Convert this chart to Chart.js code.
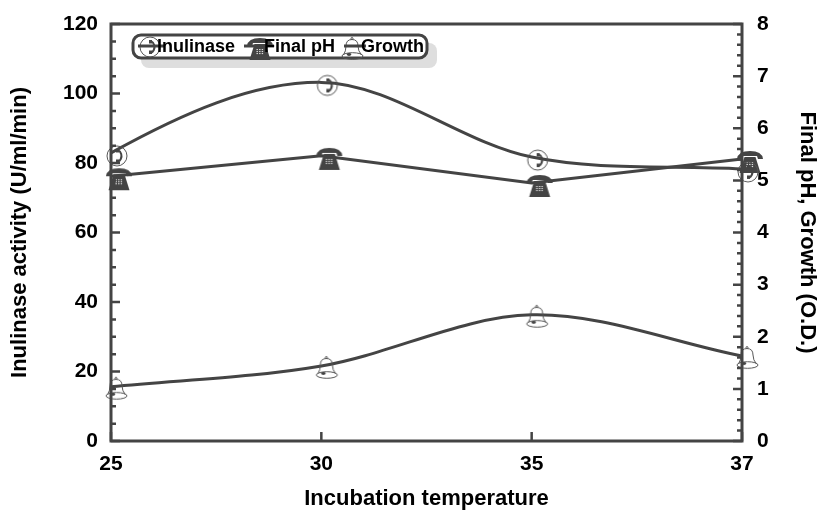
<!DOCTYPE html>
<html>
<head>
<meta charset="utf-8">
<style>
  html, body { margin: 0; padding: 0; background: #fff; }
  canvas { display: block; }
</style>
<script src="https://cdn.jsdelivr.net/npm/chart.js@4"></script>
</head>
<body>
<canvas id="tempChart" width="823" height="514"></canvas>
<script>
const temperatures = ['25', '30', '35', '37'];
const inulinase = [82.9, 103.2, 81.7, 78.3];
const finalPh = [5.08, 5.47, 4.95, 5.41];
const growth = [1.04, 1.44, 2.42, 1.63];

const ink = '#444444';
const FONT = '"Liberation Sans", Arial, sans-serif';
const tickFont = { family: FONT, size: 21, weight: 'bold' };
const titleFont = { family: FONT, size: 22, weight: 'bold' };

// marker pictures, drawn a little off centre like in the original
function iconCanvas(draw, dx, dy) {
  const c = document.createElement('canvas');
  c.width = 60;
  c.height = 60;
  const g = c.getContext('2d');
  g.translate(30 + dx, 30 + dy);
  draw(g);
  return c;
}

function drawDial(g) {
  g.strokeStyle = '#555';
  g.lineWidth = 1;
  g.beginPath();
  g.arc(0, 0, 10, 0, Math.PI * 2);
  g.stroke();
  // handset
  g.strokeStyle = ink;
  g.lineWidth = 2;
  g.beginPath();
  g.arc(-2, 0, 6.5, -1.1, 1.1);
  g.stroke();
  g.fillStyle = ink;
  g.fillRect(-1, -7, 3, 3.5);
  g.fillRect(-1, 3.5, 3, 3.5);
}

function drawPhone(g) {
  g.fillStyle = ink;
  // receiver
  g.beginPath();
  g.moveTo(-13, -3);
  g.quadraticCurveTo(-12, -11, 0, -11);
  g.quadraticCurveTo(12, -11, 13, -3);
  g.lineTo(8, -3);
  g.lineTo(7, -6);
  g.lineTo(-7, -6);
  g.lineTo(-8, -3);
  g.closePath();
  g.fill();
  // body
  g.beginPath();
  g.moveTo(-5.5, -5);
  g.lineTo(5.5, -5);
  g.lineTo(10.5, 11);
  g.lineTo(-10.5, 11);
  g.closePath();
  g.fill();
  // keypad
  g.fillStyle = '#ddd';
  for (let r = 0; r < 3; r++) {
    for (let k = 0; k < 3; k++) {
      g.fillRect(-3.5 + k * 2.6, 0 + r * 2, 1.4, 1.1);
    }
  }
}

function drawBell(g) {
  g.strokeStyle = '#555';
  g.lineWidth = 1;
  g.beginPath();
  g.moveTo(-8.5, 6);
  g.quadraticCurveTo(-6, 2, -6, -3);
  g.quadraticCurveTo(-6, -9.5, 0, -9.5);
  g.quadraticCurveTo(6, -9.5, 6, -3);
  g.quadraticCurveTo(6, 2, 9.5, 6);
  g.stroke();
  g.beginPath();
  g.ellipse(0.5, 7, 10.5, 3.3, 0, 0, Math.PI * 2);
  g.stroke();
  g.beginPath();
  g.arc(0, -10.5, 1, 0, Math.PI * 2);
  g.stroke();
  g.fillStyle = ink;
  g.beginPath();
  g.ellipse(-3, 5.5, 2.2, 1.4, 0, 0, Math.PI * 2);
  g.fill();
}

const dialPoint = iconCanvas(drawDial, 6, 3);
const phonePoint = iconCanvas(drawPhone, 8, 3);
const bellPoint = iconCanvas(drawBell, 5, 2);

// the first inulinase segment leaves its point steeper than chart.js would make it
const startTangent = {
  id: 'startTangent',
  beforeDatasetDraw(chart, args) {
    if (args.index !== 0) return;
    const line = args.meta.dataset;
    line.updateControlPoints(chart.chartArea, 'x');
    const p0 = args.meta.data[0];
    const p1 = args.meta.data[1];
    p0.cp2x = p0.x + (p1.x - p0.x) / 3;
    p0.cp2y = p0.y + (p1.y - p0.y) * 0.55;
  }
};

// inward tick marks and the frame on top of the plot
const frameAndTicks = {
  id: 'frameAndTicks',
  afterDatasetsDraw(chart) {
    const { ctx, chartArea: a, scales } = chart;
    ctx.save();
    ctx.strokeStyle = ink;
    ctx.lineWidth = 2.5;
    ctx.beginPath();
    scales.yL.ticks.forEach(t => {
      const y = scales.yL.getPixelForValue(t.value);
      ctx.moveTo(a.left, y);
      ctx.lineTo(a.left + (t.value % 20 === 0 ? 9 : 5), y);
    });
    scales.yR.ticks.forEach(t => {
      const y = scales.yR.getPixelForValue(t.value);
      const major = Math.abs(t.value - Math.round(t.value)) < 0.001;
      ctx.moveTo(a.right, y);
      ctx.lineTo(a.right - (major ? 9 : 5), y);
    });
    temperatures.forEach((_, i) => {
      const x = scales.x.getPixelForValue(i);
      ctx.moveTo(x, a.bottom);
      ctx.lineTo(x, a.bottom - 9);
    });
    ctx.stroke();
    ctx.lineWidth = 3;
    ctx.beginPath();
    ctx.rect(a.left, a.top, a.right - a.left, a.bottom - a.top);
    ctx.stroke();
    ctx.restore();
  }
};

// boxed legend inside the plot, with the soft grey shadow
const boxLegend = {
  id: 'boxLegend',
  afterDraw(chart) {
    const { ctx } = chart;
    const entries = [
      { i: 0, icon: drawDial, ix: 150, iy: 47, x0: 138, x1: 164, tx: 157 },
      { i: 1, icon: drawPhone, ix: 260, iy: 49, x0: 244, x1: 274, tx: 264 },
      { i: 2, icon: drawBell, ix: 352, iy: 49, x0: 344, x1: 366, tx: 361 }
    ];
    ctx.save();
    ctx.fillStyle = '#dedede';
    ctx.beginPath();
    ctx.roundRect(141, 43, 296, 25, 8);
    ctx.fill();
    ctx.fillStyle = '#fff';
    ctx.beginPath();
    ctx.roundRect(133, 35, 294, 23, 8);
    ctx.fill();
    ctx.strokeStyle = ink;
    ctx.lineWidth = 3;
    ctx.stroke();
    ctx.font = 'bold 18px ' + FONT;
    ctx.textBaseline = 'middle';
    entries.forEach(e => {
      ctx.save();
      ctx.translate(e.ix, e.iy);
      e.icon(ctx);
      ctx.restore();
      ctx.strokeStyle = ink;
      ctx.lineWidth = 3;
      ctx.beginPath();
      ctx.moveTo(e.x0, 46);
      ctx.lineTo(e.x1, 46);
      ctx.stroke();
      ctx.fillStyle = '#000';
      ctx.fillText(chart.data.datasets[e.i].label, e.tx, 47);
    });
    ctx.restore();
  }
};

new Chart(document.getElementById('tempChart'), {
  type: 'line',
  data: {
    labels: temperatures,
    datasets: [
      { label: 'Inulinase', data: inulinase, yAxisID: 'yL', borderColor: ink, borderWidth: 3, tension: 0.33, pointStyle: dialPoint, clip: false },
      { label: 'Final pH', data: finalPh, yAxisID: 'yR', borderColor: ink, borderWidth: 3, tension: 0, pointStyle: phonePoint, clip: false },
      { label: 'Growth', data: growth, yAxisID: 'yR', borderColor: ink, borderWidth: 3, tension: 0.33, pointStyle: bellPoint, clip: false }
    ]
  },
  plugins: [startTangent, frameAndTicks, boxLegend],
  options: {
    responsive: false,
    animation: false,
    layout: { padding: { top: 24, left: 0, right: 0, bottom: 0 } },
    plugins: { legend: { display: false }, tooltip: { enabled: false } },
    scales: {
      x: {
        offset: false,
        grid: { display: false },
        border: { display: false },
        ticks: { color: '#000', font: tickFont, maxRotation: 0, autoSkip: false, padding: 3 },
        title: { display: true, text: 'Incubation temperature', color: '#000', font: titleFont, padding: { top: 8, bottom: 2 } },
        afterFit(s) { s.height = 73; }
      },
      yL: {
        position: 'left',
        min: 0,
        max: 120,
        grid: { display: false },
        border: { display: false },
        afterBuildTicks(s) {
          s.ticks = [];
          for (let v = 0; v <= 120; v += 5) s.ticks.push({ value: v });
        },
        ticks: {
          color: '#000',
          font: tickFont,
          autoSkip: false,
          padding: 5,
          callback: v => (v % 20 === 0 ? String(v) : '')
        },
        title: { display: true, text: 'Inulinase activity (U/ml/min)', color: '#000', font: titleFont, padding: 7 },
        afterFit(s) { s.width = 111; }
      },
      yR: {
        position: 'right',
        min: 0,
        max: 8,
        grid: { display: false },
        border: { display: false },
        afterBuildTicks(s) {
          s.ticks = [];
          for (let k = 0; k <= 40; k++) s.ticks.push({ value: k / 5 });
        },
        ticks: {
          color: '#000',
          font: tickFont,
          autoSkip: false,
          padding: 7,
          callback: v => (Math.abs(v - Math.round(v)) < 0.001 ? String(Math.round(v)) : '')
        },
        title: { display: true, text: 'Final pH, Growth (O.D.)', color: '#000', font: titleFont, padding: 3 },
        afterFit(s) { s.width = 81; }
      }
    }
  }
});
</script>
</body>
</html>
